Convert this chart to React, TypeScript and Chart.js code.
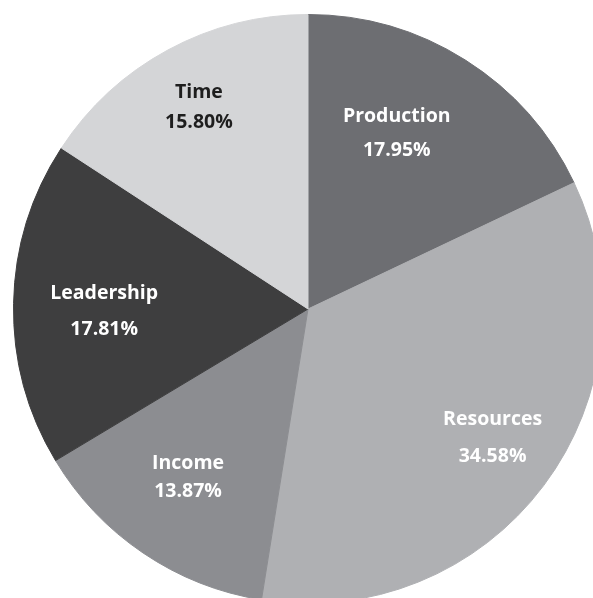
import React, { useEffect, useRef } from "react";
import { Chart, registerables } from "chart.js";

Chart.register(...registerables);

const categories = ["Production", "Resources", "Income", "Leadership", "Time"];
const shares = [17.95, 34.58, 13.87, 17.81, 15.8];
const sliceColors = ["#6d6e72", "#afb0b3", "#8c8d91", "#3e3e3f", "#d4d5d7"];
const labelColors = ["#ffffff", "#ffffff", "#ffffff", "#ffffff", "#1e1e1e"];
// label placement within each slice: fraction of slice angle, fraction of radius, line gap
const labelAngleFrac = [0.415, 0.485, 0.527, 0.473, 0.5];
const labelRadiusFrac = [0.668, 0.765, 0.703, 0.692, 0.778];
const labelLineGap = [34, 37, 28, 36, 30];

const labelPlugin = {
  id: "sliceLabels",
  afterDatasetsDraw(chart: any) {
    const ctx = chart.ctx;
    const meta = chart.getDatasetMeta(0);
    ctx.save();
    ctx.font = "bold 19.5px 'Open Sans'";
    ctx.textAlign = "center";
    ctx.textBaseline = "middle";
    meta.data.forEach((arc: any, i: number) => {
      const { x, y, startAngle, endAngle, outerRadius } = arc.getProps(
        ["x", "y", "startAngle", "endAngle", "outerRadius"],
        true
      );
      const a = startAngle + (endAngle - startAngle) * labelAngleFrac[i];
      const r = outerRadius * labelRadiusFrac[i];
      const cx = x + Math.cos(a) * r;
      const cy = y + Math.sin(a) * r;
      ctx.fillStyle = labelColors[i];
      ctx.fillText(categories[i], cx, cy - labelLineGap[i] / 2);
      ctx.fillText(shares[i].toFixed(2) + "%", cx, cy + labelLineGap[i] / 2);
    });
    ctx.restore();
  },
};

export default function App() {
  const ref = useRef<HTMLCanvasElement | null>(null);
  useEffect(() => {
    if (!ref.current) return;
    const chart = new Chart(ref.current, {
      type: "pie",
      data: {
        labels: categories,
        datasets: [
          {
            data: shares,
            backgroundColor: sliceColors,
            borderColor: sliceColors,
            borderWidth: 1,
          },
        ],
      },
      options: {
        responsive: false,
        animation: false,
        layout: { padding: 0 },
        plugins: {
          legend: { display: false },
          tooltip: { enabled: false },
        },
      },
      plugins: [labelPlugin],
    });
    return () => chart.destroy();
  }, []);
  return (
    <div
      style={{
        position: "fixed",
        left: 0,
        top: 0,
        width: 593,
        height: 598,
        overflow: "hidden",
        background: "#ffffff",
      }}
    >
      <canvas
        ref={ref}
        width={590}
        height={590}
        style={{ position: "absolute", left: 13, top: 14, width: 590, height: 590 }}
      />
    </div>
  );
}
